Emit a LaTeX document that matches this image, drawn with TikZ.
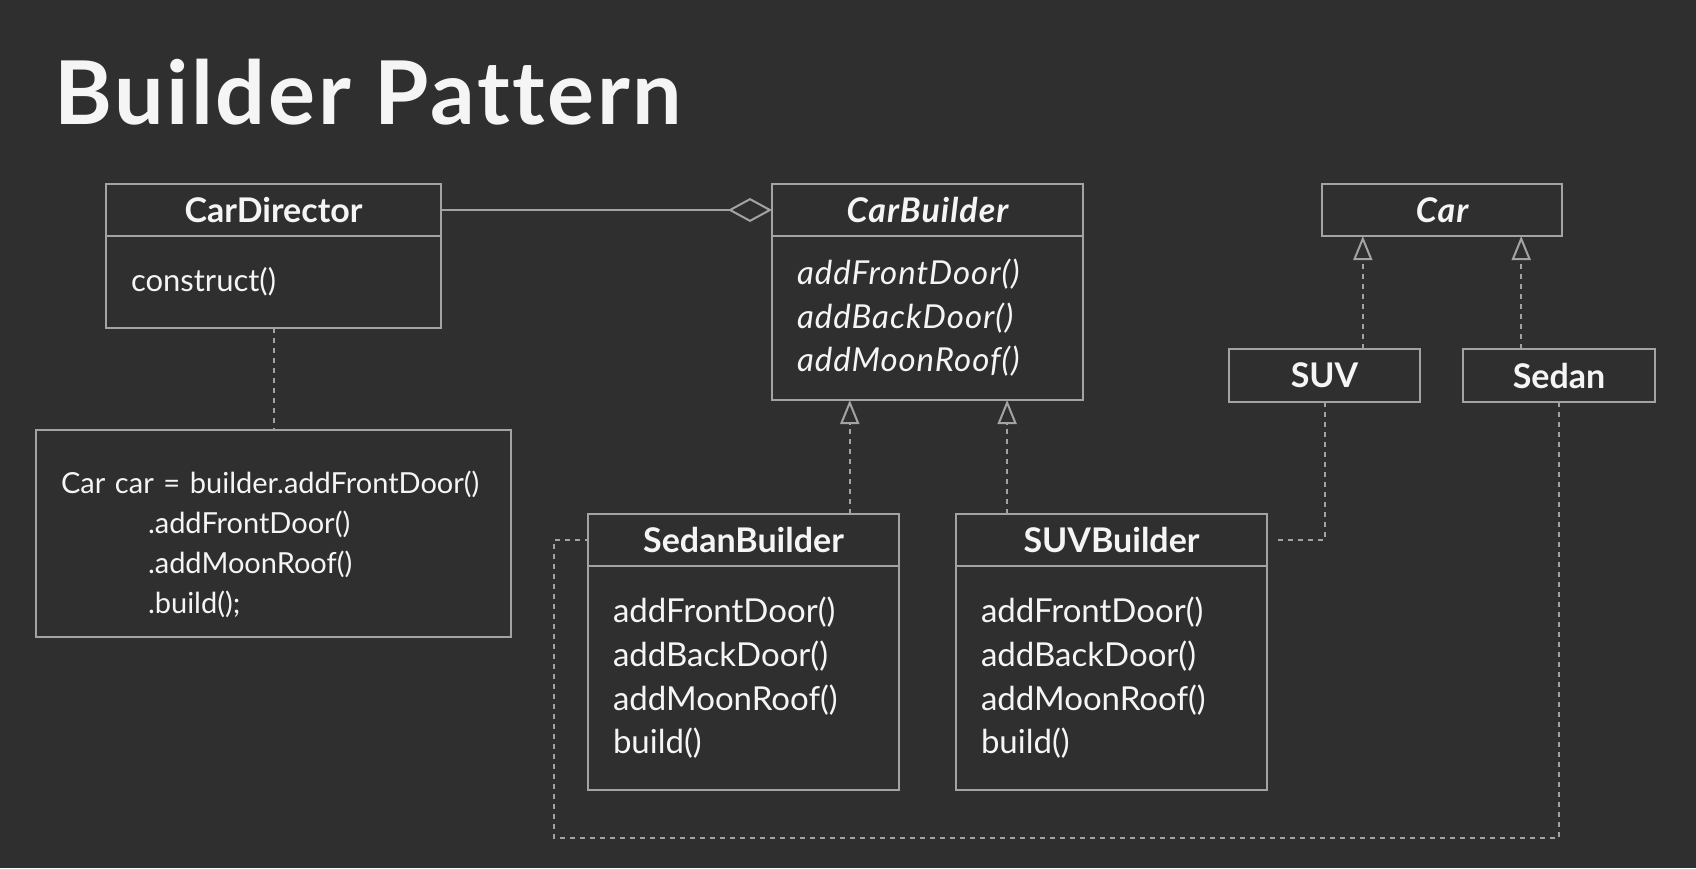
\documentclass[tikz,border=0pt]{standalone}
\usepackage{fontspec}
\setmainfont{Lato}
\newfontfamily\titlefont[Ligatures=NoCommon, LetterSpace=3]{Lato}
\newfontfamily\wideit[LetterSpace=3]{Lato}
\usetikzlibrary{positioning,calc,arrows.meta}
\definecolor{bg}{HTML}{2F2F2F}
\definecolor{umlline}{HTML}{A3A3A3}
\definecolor{umltext}{HTML}{F5F5F5}

\begin{document}
\begin{tikzpicture}[x=1pt,y=-1pt,
    box/.style={draw=umlline, line width=2pt, text=umltext, inner sep=0pt, outer sep=0pt},
    head/.style={box, minimum height=52pt, font=\fontsize{34}{40}\selectfont\bfseries},
    body/.style={box, align=left, text width=#1, inner xsep=25pt, font=\fontsize{33}{43.6}\selectfont},
    aggr/.style={draw=umlline, line width=2pt, -{Diamond[open, length=44pt, width=24pt]}},
    dep/.style={draw=umlline, line width=2pt, dash pattern=on 5pt off 5pt},
    real/.style={dep, -{Triangle[open, length=24pt, width=19pt]}}]
    % background
    \path[use as bounding box, fill=bg](0,0)rectangle(1696,868);
    \node[anchor=base west, inner sep=0pt, text=umltext, font=\fontsize{88}{92}\titlefont\bfseries](title)at(54,124){Builder Pattern};
    % director
    \node[head, minimum width=335pt](dirH)at(273.5,210){CarDirector};
    \node[body=285pt, minimum height=92pt, below=0pt of dirH, font=\fontsize{31}{40}\selectfont](dirB){construct()};
    \node[body=425pt, minimum height=207pt, font=\fontsize{29}{40}\selectfont](code)at(273.5,533.5){\rule{0pt}{44pt}Car car = builder.addFrontDoor()\\
        \hspace*{87pt}.addFrontDoor()\\
        \hspace*{87pt}.addMoonRoof()\\
        \hspace*{87pt}.build();};
    % builders
    \node[head, minimum width=311pt, font=\fontsize{34}{40}\wideit\bfseries\itshape](bldH)at(927.5,210){CarBuilder};
    \node[body=261pt, minimum height=164pt, below=0pt of bldH, font=\fontsize{33}{43.6}\wideit\itshape](bldB){addFrontDoor()\\addBackDoor()\\addMoonRoof()};
    \node[head, minimum width=311pt](sedH)at(743.5,540){SedanBuilder};
    \node[body=261pt, minimum height=224pt, below=0pt of sedH](sedB){addFrontDoor()\\addBackDoor()\\addMoonRoof()\\build()};
    \node[head, minimum width=311pt](suvH)at(1111.5,540){SUVBuilder};
    \node[body=261pt, minimum height=224pt, below=0pt of suvH](suvB){addFrontDoor()\\addBackDoor()\\addMoonRoof()\\build()};
    % products
    \node[head, minimum width=240pt, font=\fontsize{34}{40}\wideit\bfseries\itshape](car)at(1442,210){Car};
    \node[head, minimum width=191pt, minimum height=53pt](suv)at(1324.5,375.5){SUV};
    \node[head, minimum width=192pt, minimum height=53pt](sedan)at(1559,375.5){Sedan};
    % relations
    \coordinate(r1)at($(bldB.south west)!.25!(bldB.south east)$);
    \coordinate(r2)at($(bldB.south west)!.756!(bldB.south east)$);
    \coordinate(c1)at($(car.south west)!.17!(car.south east)$);
    \coordinate(c2)at($(car.south west)!.83!(car.south east)$);
    \coordinate(loop)at(554,838);
    \path[aggr](dirH.east)--(bldH.west);
    \path[dep](dirB.south)--(code.north);
    \path[real](sedH.north -| r1)--(r1);
    \path[real](suvH.north -| r2)--(r2);
    \path[real](suv.north -| c1)--(c1);
    \path[real](sedan.north -| c2)--(c2);
    \path[dep, shorten >=8pt](suv.south)|-(suvH.east);
    \path[dep](sedan.south)|-(loop)|-(sedH.west);
\end{tikzpicture}
\end{document}
